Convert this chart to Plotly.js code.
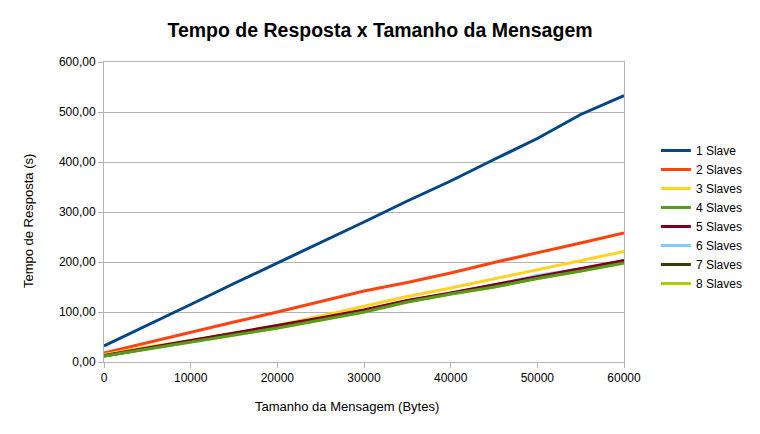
<!DOCTYPE html>
<html><head><meta charset="utf-8">
<script src="https://cdn.plot.ly/plotly-3.0.1.min.js"></script>
<style>html,body{margin:0;padding:0;background:#fff}#chart{width:760px;height:434px}</style>
</head><body><div id="chart"></div>
<script>
const tamanhos = [0,5000,10000,15000,20000,25000,30000,35000,40000,45000,50000,55000,60000];
const slave1 = [32,73,115,157,198,238,280,322,362,405,447,495,533];
const slave2 = [18,39,59,80,100,121,142,159,178,199,218,238,258];
const slave3 = [15,30,43,58,73,92,111,131,148,166,184,203,221];
const slave4 = [12,26,40,54,68,84,100,120,136,150,167,182,198];
const slave5 = [13,28,43,57,72,88,104,123,138,154,171,187,203];
const slave6 = [12,27,41,55,70,86,102,121,137,154,173,186,200];
const slave7 = [12,27,42,56,71,87,103,122,137,153,170,185,202];
const slave8 = [12,26,40,54,68,84,100,120,136,150,167,182,198];
const nomes = ['1 Slave','2 Slaves','3 Slaves','4 Slaves','5 Slaves','6 Slaves','7 Slaves','8 Slaves'];
const cores = ['#004586','#ff420e','#ffd320','#579d1c','#7e0021','#83caff','#314004','#aecf00'];
const series = [slave1,slave2,slave3,slave4,slave5,slave6,slave7,slave8];
const yTicks = [0,100,200,300,400,500,600];
const yTickText = ['0,00','100,00','200,00','300,00','400,00','500,00','600,00'];
const xTicks = [0,10000,20000,30000,40000,50000,60000];
const tituloX = 'Tamanho da Mensagem (Bytes)';
const tituloY = 'Tempo de Resposta (s)';

// draw order: later series on top, green (4) last
const drawOrder = [0,1,2,7,5,6,4,3];
const traces = drawOrder.map(i => ({
  x: tamanhos, y: series[i], name: nomes[i], type: 'scatter', mode: 'lines',
  line: {color: cores[i], width: 3}, legendrank: i+1
}));

const fam = 'Liberation Sans, Arial, sans-serif';
const axFont = {family: fam, size: 12, color: '#000'};
const titFont = {family: fam, size: 13, color: '#000'};
const layout = {
  width: 760, height: 434,
  margin: {l: 104, r: 134, t: 62, b: 72},
  paper_bgcolor: '#fff', plot_bgcolor: '#fff',
  font: axFont,
  title: {text: 'Tempo de Resposta x Tamanho da Mensagem', x: 0.5, xanchor: 'center', xref: 'container',
          y: 1 - 30/434, yanchor: 'middle', yref: 'container',
          font: {family: fam, size: 19.5, color: '#000', weight: 'bold'}},
  xaxis: {range: [0, 60000], tickvals: xTicks, ticktext: xTicks.map(String), showgrid: false,
          showline: true, linecolor: '#b3b3b3', linewidth: 1, mirror: true, ticks: 'outside', ticklen: 5,
          tickcolor: '#b3b3b3', tickfont: axFont, zeroline: false},
  yaxis: {range: [0, 600], tickvals: yTicks, ticktext: yTickText, showgrid: true, gridcolor: '#b3b3b3',
          showline: true, linecolor: '#b3b3b3', linewidth: 1, mirror: true, ticks: 'outside', ticklen: 5,
          tickcolor: '#b3b3b3', tickfont: axFont, zeroline: false},
  annotations: [
    {text: tituloX, xref: 'paper', yref: 'paper', x: (348-104)/522, y: -(406.7-362)/300,
     xanchor: 'center', yanchor: 'middle', showarrow: false, font: titFont},
    {text: tituloY, xref: 'paper', yref: 'paper', x: -(104-28.3)/522, y: (362-221.5)/300,
     xanchor: 'center', yanchor: 'middle', showarrow: false, font: titFont, textangle: -90}
  ],
  legend: {x: (658-104)/522, xanchor: 'left', y: 0.5 - 5/300, yanchor: 'middle', font: axFont, bgcolor: 'rgba(0,0,0,0)',
           tracegroupgap: 0, itemwidth: 30}
};
Plotly.newPlot('chart', traces, layout, {staticPlot: true, displayModeBar: false});
</script></body></html>
